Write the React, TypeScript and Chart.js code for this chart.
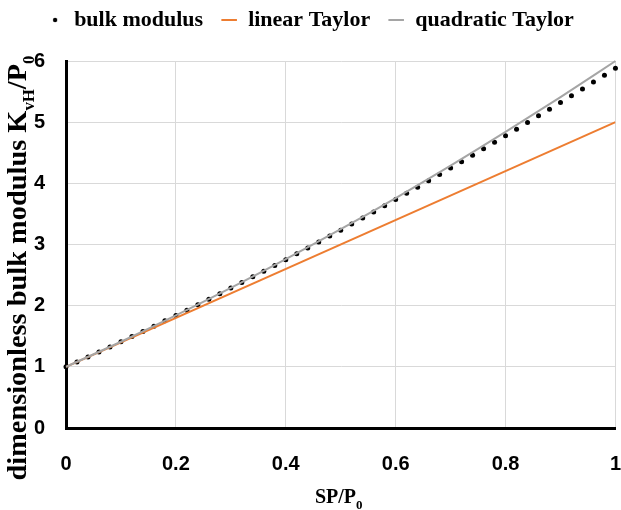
import React, { useEffect, useRef } from "react";
import { Chart, registerables } from "chart.js";

Chart.register(...registerables);

// ---------- data ----------
const seriesNames = ["bulk modulus", "linear Taylor", "quadratic Taylor"];

const bulkX = [
  0, 0.02, 0.04, 0.06, 0.08, 0.1, 0.12, 0.14, 0.16, 0.18,
  0.2, 0.22, 0.24, 0.26, 0.28, 0.3, 0.32, 0.34, 0.36, 0.38,
  0.4, 0.42, 0.44, 0.46, 0.48, 0.5, 0.52, 0.54, 0.56, 0.58,
  0.6, 0.62, 0.64, 0.66, 0.68, 0.7, 0.72, 0.74, 0.76, 0.78,
  0.8, 0.82, 0.84, 0.86, 0.88, 0.9, 0.92, 0.94, 0.96, 0.98, 1,
];
const bulkY = [
  1.0, 1.08, 1.162, 1.244, 1.326, 1.41, 1.494, 1.579, 1.665, 1.752,
  1.839, 1.927, 2.016, 2.106, 2.196, 2.287, 2.379, 2.471, 2.564, 2.658,
  2.752, 2.848, 2.943, 3.04, 3.137, 3.235, 3.334, 3.433, 3.533, 3.633,
  3.734, 3.836, 3.938, 4.041, 4.145, 4.249, 4.354, 4.459, 4.565, 4.672,
  4.779, 4.886, 4.995, 5.103, 5.213, 5.323, 5.433, 5.544, 5.655, 5.768, 5.88,
];

const linearX = [0, 1];
const linearY = [1, 5];

const quadX = [0, 0.1, 0.2, 0.3, 0.4, 0.5, 0.6, 0.7, 0.8, 0.9, 1];
const quadY = [1, 1.41, 1.84, 2.29, 2.76, 3.25, 3.76, 4.29, 4.84, 5.41, 6];

const xTickValues = [0, 0.2, 0.4, 0.6, 0.8, 1];
const yTickValues = [0, 1, 2, 3, 4, 5, 6];

const xTitleSegs = [
  { t: "SP/P" },
  { t: "0", sub: true },
];
const yTitleSegs = [
  { t: "dimensionless bulk modulus K" },
  { t: "vH", sub: true },
  { t: "/P" },
  { t: "0", sub: true },
];

// ---------- styling ----------
const SERIF = "'Liberation Serif', 'Times New Roman', serif";
const SANS = "'Liberation Sans', Arial, sans-serif";
const ORANGE = "#ED7D31";
const GRAY = "#A5A5A5";
const GRID = "#D9D9D9";
const CLEAR = "rgba(0,0,0,0)";

type Seg = { t: string; sub?: boolean };

function drawRich(
  ctx: CanvasRenderingContext2D,
  segs: Seg[],
  size: number,
  subSize: number,
  subShift: number,
  targetLen?: number
) {
  const base = `bold ${size}px ${SERIF}`;
  const sub = `bold ${subSize}px ${SERIF}`;
  let w = 0;
  for (const s of segs) {
    ctx.font = s.sub ? sub : base;
    w += ctx.measureText(s.t).width;
  }
  ctx.save();
  if (targetLen) ctx.scale(targetLen / w, 1);
  let x = -w / 2;
  ctx.textAlign = "left";
  ctx.textBaseline = "alphabetic";
  for (const s of segs) {
    ctx.font = s.sub ? sub : base;
    ctx.fillText(s.t, x, s.sub ? subShift : 0);
    x += ctx.measureText(s.t).width;
  }
  ctx.restore();
}

const richTitles = {
  id: "richTitles",
  afterDraw(chart: any) {
    const ctx: CanvasRenderingContext2D = chart.ctx;
    const a = chart.chartArea;
    ctx.save();
    ctx.fillStyle = "#000";
    ctx.save();
    ctx.translate((a.left + a.right) / 2 - 2, 503);
    drawRich(ctx, xTitleSegs, 20, 13, 6);
    ctx.restore();
    ctx.save();
    ctx.translate(26, 268);
    ctx.rotate(-Math.PI / 2);
    drawRich(ctx, yTitleSegs, 27, 16, 8, 425);
    ctx.restore();
    ctx.restore();
  },
};

function makeDot(): HTMLCanvasElement {
  const c = document.createElement("canvas");
  c.width = 6;
  c.height = 6;
  const g = c.getContext("2d")!;
  g.fillStyle = "#000";
  g.beginPath();
  g.arc(3, 3, 2.2, 0, Math.PI * 2);
  g.fill();
  return c;
}

function fmt(v: number): string {
  const r = Math.round(v * 10) / 10;
  return String(r);
}

export default function App() {
  const ref = useRef<HTMLCanvasElement | null>(null);

  useEffect(() => {
    document.body.style.margin = "0";
    const canvas = ref.current;
    if (!canvas) return;
    const dot = makeDot();

    const chart = new Chart(canvas, {
      type: "scatter",
      data: {
        datasets: [
          {
            label: seriesNames[0],
            data: bulkX.map((x, i) => ({ x, y: bulkY[i] })),
            pointRadius: 2.5,
            pointBackgroundColor: "#000",
            pointBorderWidth: 0,
            showLine: false,
            order: 3,
            clip: false as any,
          },
          {
            label: seriesNames[1],
            data: linearX.map((x, i) => ({ x, y: linearY[i] })),
            showLine: true,
            borderColor: ORANGE,
            backgroundColor: ORANGE,
            borderWidth: 2,
            pointRadius: 0,
            pointStyle: "line",
            order: 2,
          },
          {
            label: seriesNames[2],
            data: quadX.map((x, i) => ({ x, y: quadY[i] })),
            showLine: true,
            borderColor: GRAY,
            backgroundColor: GRAY,
            borderWidth: 2,
            pointRadius: 0,
            pointStyle: "line",
            cubicInterpolationMode: "monotone",
            order: 1,
            clip: false as any,
          },
        ],
      },
      options: {
        responsive: false,
        animation: false,
        events: [],
        layout: { padding: { top: -9, right: 0, left: 0, bottom: 0 } },
        plugins: {
          tooltip: { enabled: false },
          legend: {
            position: "top",
            align: "center",
            labels: {
              usePointStyle: true,
              boxWidth: 16,
              boxHeight: 11,
              padding: 18,
              color: "#000",
              font: { family: SERIF, size: 22, weight: "bold" },
              generateLabels: (ch: any) => {
                const items = (Chart.defaults.plugins.legend.labels as any).generateLabels(ch);
                items.sort((a: any, b: any) => a.datasetIndex - b.datasetIndex);
                return items.map((it: any) => {
                  const i = it.datasetIndex;
                  if (i === 0) {
                    return { ...it, pointStyle: dot, lineWidth: 0 };
                  }
                  const c = i === 1 ? ORANGE : GRAY;
                  return { ...it, pointStyle: "line", strokeStyle: c, fillStyle: c, lineWidth: 2 };
                });
              },
            },
          },
          title: {
            display: true,
            text: "",
            weight: 500,
            padding: { top: 0, bottom: 19 },
            font: { size: 1, lineHeight: 1 },
          } as any,
        },
        scales: {
          x: {
            type: "linear",
            min: 0,
            max: 1,
            afterFit: (s: any) => {
              s.height = 82;
            },
            afterBuildTicks: (s: any) => {
              s.ticks = xTickValues.map((v) => ({ value: v }));
            },
            ticks: {
              padding: 0,
              color: "#000",
              font: { family: SANS, size: 20, weight: "bold" },
              callback: (v: any) => fmt(Number(v)),
              maxRotation: 0,
            },
            grid: { color: GRID, lineWidth: 1, drawTicks: true, tickLength: 24, tickColor: CLEAR },
            border: { display: true, color: "#000", width: 3 },
          },
          y: {
            type: "linear",
            min: 0,
            max: 6,
            afterFit: (s: any) => {
              s.width = 66;
            },
            afterBuildTicks: (s: any) => {
              s.ticks = yTickValues.map((v) => ({ value: v }));
            },
            ticks: {
              padding: 0,
              color: "#000",
              font: { family: SANS, size: 20, weight: "bold" },
              callback: (v: any) => String(v),
            },
            grid: { color: GRID, lineWidth: 1, drawTicks: true, tickLength: 21, tickColor: CLEAR },
            border: { display: true, color: "#000", width: 3 },
          },
        },
      } as any,
      plugins: [richTitles],
    });

    return () => chart.destroy();
  }, []);

  return (
    <canvas
      ref={ref}
      width={621}
      height={510}
      style={{ position: "absolute", left: 0, top: 0, width: 621, height: 510 }}
    />
  );
}
